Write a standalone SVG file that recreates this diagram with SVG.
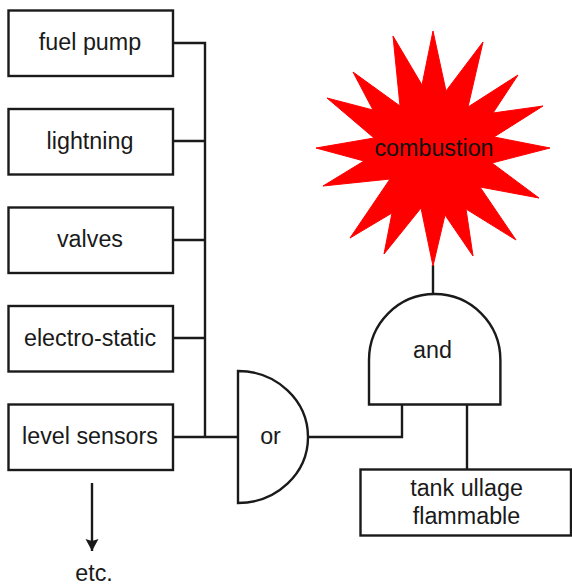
<svg xmlns="http://www.w3.org/2000/svg" width="572" height="585" viewBox="0 0 572 585">
<style>
.s{fill:#fff;stroke:#1a1a1a;stroke-width:2.4}
.c{fill:none;stroke:#1a1a1a;stroke-width:2.4}
text{font-family:"Liberation Sans",Arial,sans-serif;font-size:23.3px;fill:#1a1a1a;text-anchor:middle}
</style>
<defs><marker id="ah" markerUnits="userSpaceOnUse" markerWidth="14" markerHeight="14" refX="12" refY="7" orient="auto"><path d="M0,0.500L12,7L0,13.500L2,7Z" fill="#1a1a1a"/></marker></defs>
<rect width="572" height="585" fill="#fff"/>
<g id="connectors">
<path class="c" d="M173,43H205V437M173,141H205M173,240H205M173,338H205M173,437H238"/>
<path class="c" d="M307,437H402V404"/>
<path class="c" d="M467,404V470"/>
<path class="c" d="M433,265V294"/>
<path class="c" d="M92,483V551" marker-end="url(#ah)"/>
</g>
<g id="fuel-pump"><rect class="s" x="8.500" y="10.500" width="164.500" height="65.500"/><text x="90" y="50">fuel pump</text></g>
<g id="lightning"><rect class="s" x="8.500" y="109" width="164.500" height="65.500"/><text x="90" y="148.500">lightning</text></g>
<g id="valves"><rect class="s" x="8.500" y="207.500" width="164.500" height="65.500"/><text x="90" y="247">valves</text></g>
<g id="electro-static"><rect class="s" x="8.500" y="306" width="164.500" height="65.500"/><text x="90" y="345.500">electro-static</text></g>
<g id="level-sensors"><rect class="s" x="8.500" y="404.500" width="164.500" height="65.500"/><text x="90" y="444">level sensors</text></g>
<g id="etc"><text x="94" y="581">etc.</text></g>
<g id="or"><path class="s" d="M238,371A70,66 0 0 1 238,503Z"/><text x="270.500" y="444">or</text></g>
<g id="and"><path class="s" d="M369,404.500V360A65.700,66 0 0 1 500.400,360V404.500Z"/><text x="432.500" y="358">and</text></g>
<g id="tank-ullage"><rect class="s" x="360.500" y="469.500" width="210.500" height="66"/><text x="466.500" y="495.500">tank ullage</text><text x="466.500" y="523.500">flammable</text></g>
<g id="combustion"><polygon fill="#ff0000" stroke="#ff0000" stroke-width="1" stroke-linejoin="round" points="433,31 446,91 483,42 468,107 518,75 493,113 543,106 494,137 550,148 492,163 539,198 480,187 516,240 466,209 473,256 445,215 433,266 421,208 384,254 392,213 350,238 390,179 323,186 364,161 316,148 374,138 327,98 373,110 353,72 400,106 393,36 422,85"/><text x="434" y="156" style="fill:#111">combustion</text></g>
</svg>
